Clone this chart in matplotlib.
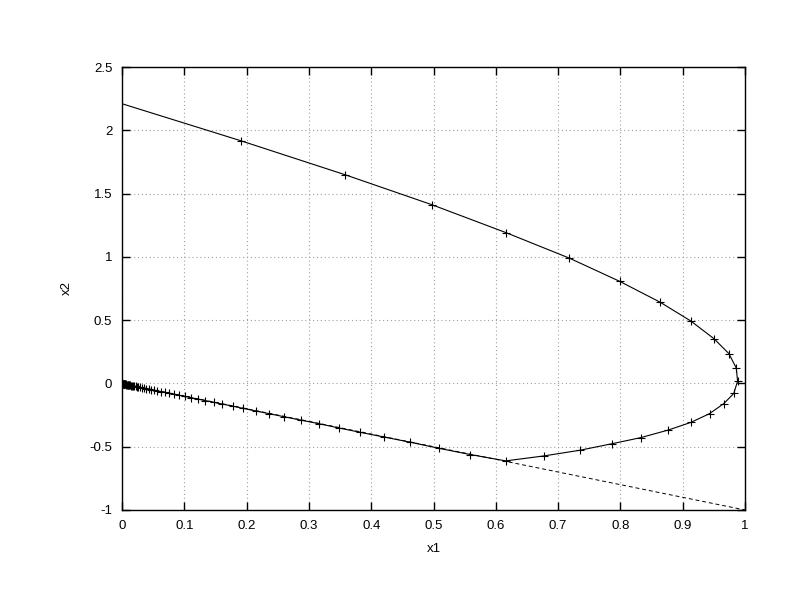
import matplotlib
matplotlib.use("Agg")
import matplotlib.pyplot as plt

# trajectory points (x1, x2)
x1 = [0.0, 0.191, 0.358, 0.498, 0.617, 0.718, 0.799, 0.864, 0.913, 0.950,
      0.974, 0.986, 0.988, 0.982, 0.966, 0.943, 0.913, 0.877, 0.833, 0.786,
      0.735, 0.677, 0.616, 0.559, 0.509, 0.462, 0.421, 0.382, 0.348, 0.316,
      0.287, 0.260, 0.236, 0.215, 0.195, 0.178, 0.160, 0.147, 0.134, 0.122,
      0.111, 0.101, 0.092, 0.084, 0.076, 0.069, 0.063, 0.057, 0.052, 0.047,
      0.043, 0.039, 0.035, 0.032, 0.029, 0.026, 0.024, 0.022, 0.020, 0.018,
      0.016, 0.015, 0.013, 0.012, 0.011, 0.010, 0.009, 0.008, 0.007, 0.006,
      0.005, 0.0045, 0.004, 0.0035, 0.003, 0.0025, 0.002, 0.0015, 0.001,
      0.0005, 0.0]
x2 = [2.21, 1.917, 1.649, 1.411, 1.190, 0.990, 0.806, 0.641, 0.493, 0.354,
      0.236, 0.121, 0.018, -0.079, -0.159, -0.239, -0.308, -0.368, -0.428, -0.477,
      -0.528, -0.573, -0.612, -0.562, -0.513, -0.464, -0.424, -0.386, -0.352, -0.318,
      -0.290, -0.263, -0.239, -0.218, -0.198, -0.180, -0.162, -0.149, -0.136, -0.124,
      -0.113, -0.103, -0.094, -0.086, -0.078, -0.071, -0.065, -0.059, -0.054, -0.049,
      -0.045, -0.041, -0.037, -0.034, -0.031, -0.028, -0.026, -0.024, -0.022, -0.020,
      -0.018, -0.017, -0.015, -0.014, -0.013, -0.012, -0.011, -0.010, -0.009, -0.008,
      -0.007, -0.0065, -0.006, -0.005, -0.0045, -0.004, -0.003, -0.0025, -0.002,
      -0.001, 0.0]

# dashed reference line x2 = -x1
line_x = [0.0, 1.0]
line_y = [0.0, -1.0]

xticks = [0, 0.1, 0.2, 0.3, 0.4, 0.5, 0.6, 0.7, 0.8, 0.9, 1]
xtick_labels = ["0", "0.1", "0.2", "0.3", "0.4", "0.5", "0.6", "0.7", "0.8", "0.9", "1"]
yticks = [-1, -0.5, 0, 0.5, 1, 1.5, 2, 2.5]
ytick_labels = ["-1", "-0.5", "0", "0.5", "1", "1.5", "2", "2.5"]

plt.rcParams["font.family"] = ["Liberation Sans", "DejaVu Sans"]
plt.rcParams["font.size"] = 9.5

fig = plt.figure(figsize=(7.92, 6.12), dpi=100)
ax = fig.add_axes([0.154, 0.1667, 0.7867, 0.7238])

ax.plot(line_x, line_y, color="black", lw=0.7, ls=(0, (4, 3)))
ax.plot(x1, x2, color="black", lw=0.8, marker="+", markersize=6,
        markeredgewidth=0.8, markevery=slice(1, None))

ax.set_xlim(0, 1)
ax.set_ylim(-1, 2.5)
ax.set_xticks(xticks)
ax.set_xticklabels(xtick_labels)
ax.set_yticks(yticks)
ax.set_yticklabels(ytick_labels)
ax.grid(True, color="#a0a0a0", ls=(0, (1, 2.5)), lw=0.8)
ax.tick_params(direction="in", top=True, right=True, length=6, width=1, pad=7)
for s in ax.spines.values():
    s.set_linewidth(1.0)

ax.set_xlabel("x1", labelpad=8)
ax.set_ylabel("x2", labelpad=12)

fig.savefig("out.png", dpi=100)
